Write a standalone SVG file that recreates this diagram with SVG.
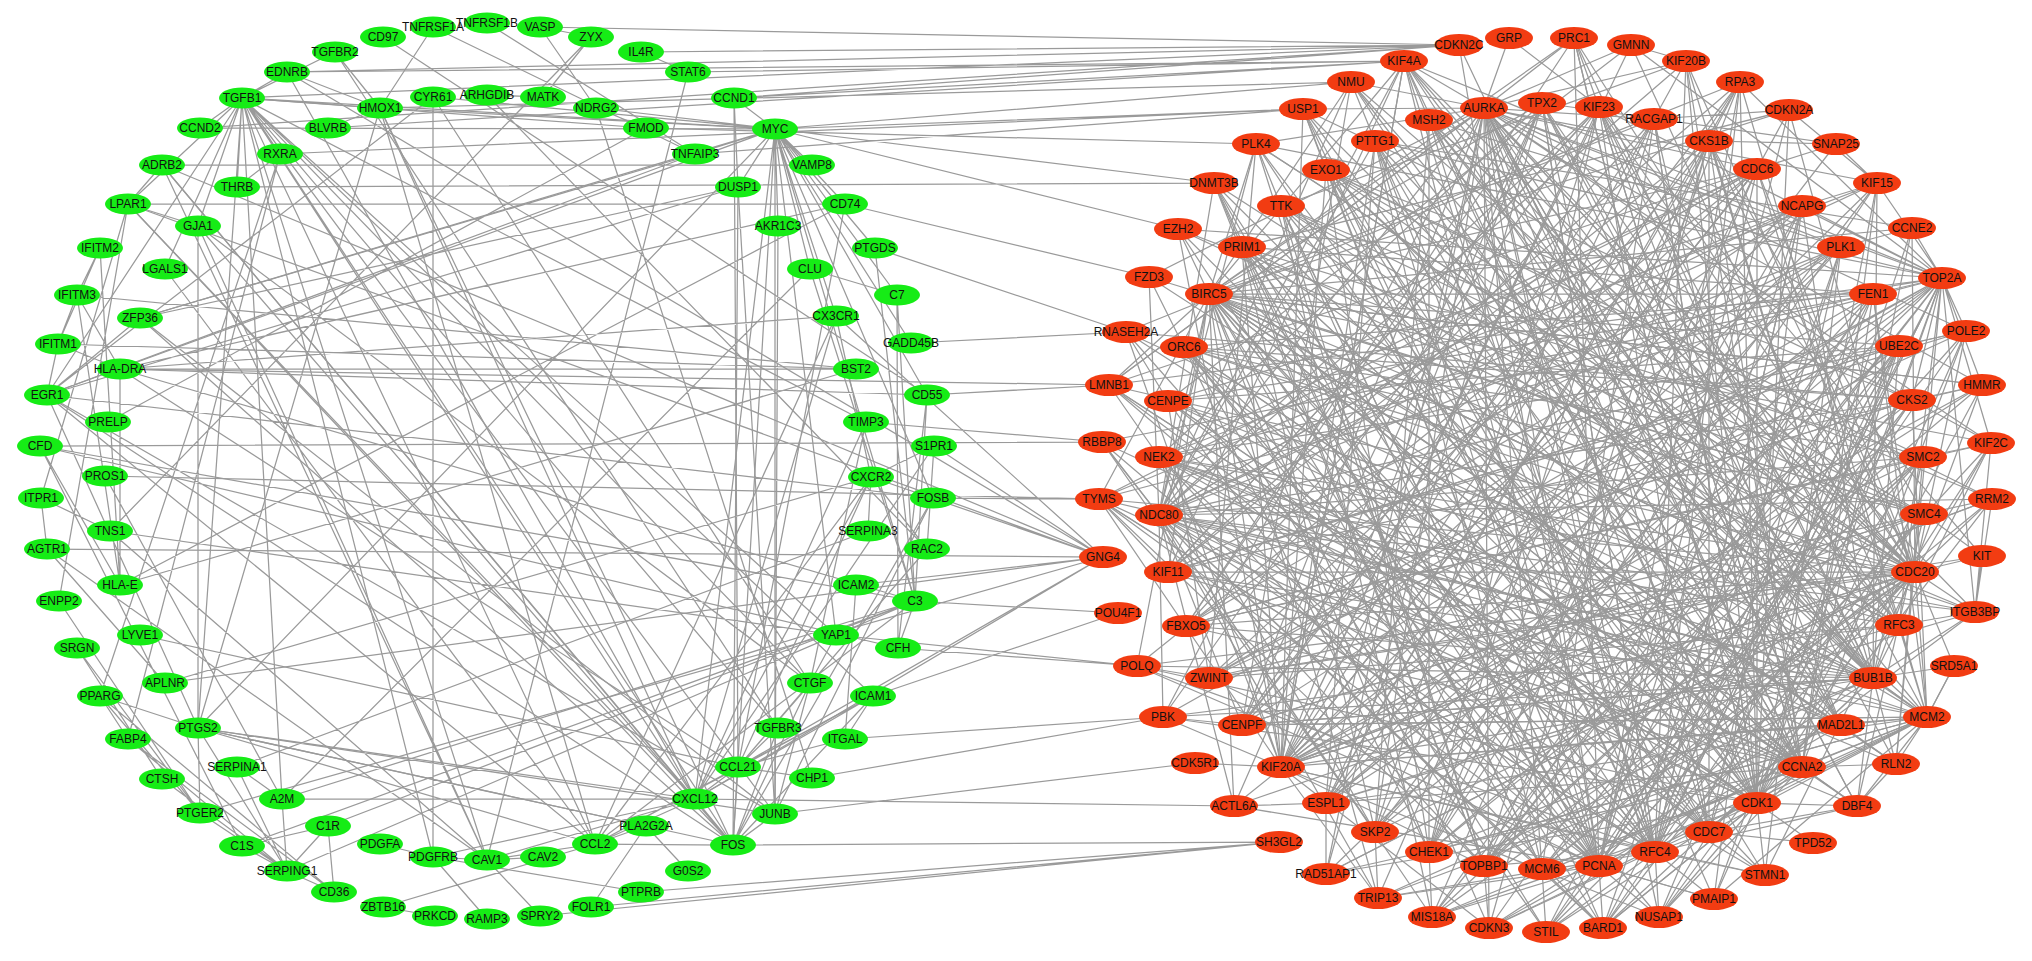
<svg xmlns="http://www.w3.org/2000/svg" width="2032" height="961" viewBox="0 0 2032 961">
<style>
.e path{fill:none;stroke:#9a9a9a;stroke-width:1.25;stroke-linejoin:round;stroke-linecap:round}
.g ellipse{fill:#16ec16}
.r ellipse{fill:#f23c12}
text{font-family:"Liberation Sans",Arial,Helvetica,sans-serif;font-size:12px;fill:#111;text-anchor:middle}
</style>
<rect width="2032" height="961" fill="#fff"/>
<g id="connectors" class="e">
<path id="e-tgfb1" d="M242 98L335 52M242 98L778 728M242 98L200 128M242 98L237 187M242 98L198 226M242 98L165 269M242 98L280 154M242 98L380 108M242 98L287 72M242 98L810 683M242 98L733 845M242 98L775 814M242 98L695 799M242 98L595 844M242 98L433 857M242 98L487 860M242 98L198 728M242 98L47 395M242 98L775 129M242 98L873 696M242 98L836 635M242 98L866 422M242 98L128 204M242 98L282 799"/>
<path id="e-myc" d="M775 129L734 98M775 129L200 128M775 129L812 165M775 129L845 204M775 129L875 248M775 129L810 269M775 129L897 295M775 129L778 226M775 129L738 187M775 129L733 845M775 129L775 814M775 129L47 395M775 129L695 154M775 129L596 108M775 129L836 316M775 129L911 343M775 129L927 395M775 129L933 498M775 129L915 601M775 129L380 108M775 129L140 318M775 129L433 97M775 129L198 728M775 129L695 799M775 129L836 635"/>
<path id="e-fos" d="M733 845L695 799M733 845L738 767M733 845L775 814M733 845L778 728M733 845L810 683M733 845L738 187M733 845L47 395M733 845L140 318M733 845L198 728M733 845L933 498M733 845L646 826M733 845L595 844M733 845L873 696M733 845L380 108M733 845L198 226M733 845L128 204M733 845L162 165"/>
<path id="e-chemokines" d="M695 799L738 767M695 799L595 844M695 799L871 477M695 799L836 316M695 799L934 446M695 799L128 204M695 799L162 165M695 799L380 108M695 799L198 728M695 799L282 799M695 799L873 696M695 799L487 860M695 799L287 72M695 799L433 857M695 799L866 422M738 767L595 844M738 767L873 696M738 767L845 739M738 767L871 477M738 767L845 204M738 767L810 683M738 767L778 728M738 767L812 778M738 767L120 369M738 767L927 549M595 844L873 696M595 844L871 477M595 844L198 728M595 844L380 108M595 844L836 316M595 844L487 860M595 844L646 826M595 844L47 395M595 844L915 601"/>
<path id="e-green-misc" d="M775 814L47 395M775 814L933 498M775 814L738 187M775 814L140 318M775 814L198 728M775 814L810 683M47 395L140 318M47 395L933 498M47 395L738 187M47 395L198 728M47 395L433 97M47 395L695 154M47 395L58 344M120 369L845 204M120 369L120 585M120 369L836 316M120 369L856 369M120 369L927 395M120 369L58 344M120 369L77 295M120 369L915 601M100 248L77 295L58 344L100 248M58 344L856 369M77 295L856 369M100 248L120 585M77 295L120 585M915 601L898 648M915 601L40 446M40 446L898 648M915 601L897 295M915 601L927 395M915 601L810 269M915 601L287 871M915 601L242 846M915 601L328 826M915 601L282 799M242 846L328 826M242 846L287 871M328 826L287 871M287 871L282 799M287 871L237 767M282 799L237 767M237 767L868 531M897 295L898 648M810 269L897 295M927 395L898 648M40 446L242 846M40 446L120 585M328 826L334 892M287 871L334 892M200 813L287 871M162 779L287 871M128 739L287 871M198 728L287 871M100 696L280 154M100 696L128 739M100 696L334 892M100 696L198 728M100 696L200 813M128 739L334 892M128 739L280 154M77 648L162 779M77 648L200 813M165 683L47 549M165 683L871 477M140 635L738 767M120 585L845 204M120 585L856 369M110 531L487 860M110 531L836 635M41 498L110 531M47 549L41 498M47 549L487 860M41 498L128 204M59 601L128 204M59 601L200 813M105 476L282 799M108 422L646 128M646 128L242 98M646 128L596 108M140 318L738 187M140 318L695 154M165 269L595 844M198 226L487 860M198 226L128 204M198 226L810 683M198 226L198 728M162 165L128 204M162 165L487 860M280 154L237 187M380 108L328 128M380 108L335 52M380 108L287 72M380 108L198 728M380 108L433 27M433 97L810 683M433 97L433 857M487 95L927 549M487 95L543 97M543 97L591 37M596 108L540 27M596 108L812 778M695 154L487 23M695 154L433 27M836 316L871 477M875 248L915 601M866 422L810 683M871 477L868 531M871 477L927 549M934 446L927 549M934 446L871 477M856 585L845 739M873 696L845 739M836 635L810 683M688 871L646 826M591 907L646 826M540 916L487 860M487 860L543 857M487 860L433 857M433 857L380 844M383 907L435 916M383 907L595 844M487 919L433 857M641 892L433 857M282 799L810 269M198 728L200 813M198 728L646 826M335 52L778 728M383 37L927 395M641 52L688 72M688 72L487 860M540 27L591 37M591 37L110 531M734 98L738 767M734 98L738 187M778 226L775 814M162 165L812 165M128 204L845 204"/>
<path id="e-inter" d="M540 27L1459 45M641 52L1459 45M287 72L1459 45M287 72L1404 61M734 98L1459 45M734 98L1404 61M200 128L1459 45M380 108L1351 82M328 128L1404 61M775 129L1351 82M775 129L1303 109M775 129L1214 183M775 129L1178 229M280 154L1303 109M695 154L1303 109M237 187L1214 183M646 128L1256 144M688 72L1404 61M242 98L1459 45M845 204L1149 277M875 248L1126 332M911 343L1126 332M927 395L1109 385M866 422L1102 442M120 369L1109 385M40 446L1102 442M933 498L1099 499M105 476L1099 499M871 477L1103 557M934 446L1103 557M836 316L1103 557M162 165L1103 557M128 204L1103 557M47 549L1103 557M287 72L1103 557M165 683L1103 557M200 813L1103 557M738 767L1103 557M695 799L1103 557M915 601L1118 613M873 696L1118 613M836 635L1137 666M812 778L1163 717M775 814L1195 763M845 739L1163 717M695 799L1234 806M733 845L1279 842M591 907L1279 842M641 892L1279 842M540 916L1279 842M856 585L1103 557M898 648L1137 666"/>
<path id="e-red-chain1" d="M1484 108L1757 803L1757 169L1281 767L1915 572L1159 457L1899 346L1599 866L1281 206L1841 725L1599 107L1429 852L1923 457L1186 626L1841 247L1709 832L1209 294L1899 625L1326 803L1654 119L1542 869L1375 141L1802 767L1168 572L1709 141L1924 514L1242 725L1542 103L1655 852L1184 347L1912 400L1375 832L1429 120L1873 678L1159 515L1802 206L1484 866L1242 247L1873 294L1209 678L1168 401L1757 803L1326 170L1915 572L1484 108"/>
<path id="e-red-chain2" d="M1802 767L1599 107L1168 572L1899 346L1326 803L1375 141L1655 852L1802 206L1168 401L1873 678L1242 725L1709 141L1484 866L1923 457L1242 247L1709 832L1542 103L1186 626L1915 572L1375 832L1873 294L1184 347L1599 866L1484 108L1841 725L1159 457L1757 169L1429 852L1326 170L1924 514L1281 767L1654 119L1757 803L1159 515L1912 400L1542 869L1209 294L1899 625L1209 678L1841 247L1429 120L1655 852"/>
<path id="e-red-chain3" d="M1757 803L1159 457L1542 103L1899 625L1281 206L1599 866L1912 400L1186 626L1654 119L1802 767L1429 120L1429 852L1802 206L1242 725L1924 514L1184 347L1709 832L1709 141L1326 803L1899 346L1168 401L1841 725L1484 108L1542 869L1915 572L1242 247L1375 832L1599 107L1873 678L1168 572L1841 247L1655 852L1326 170L1923 457L1281 767L1757 169L1159 515L1484 866L1873 294L1209 294L1802 767"/>
<path id="e-red-chain4" d="M1942 278L1757 803L1991 443L1599 866L1574 38L1915 572L1927 717L1429 852L1740 82L1168 572L1966 331L1484 108L1857 806L1184 347L1659 917L1899 346L1489 928L1709 141L1378 898L1841 725L1404 61L1281 767L1992 499L1326 170L1765 875L1841 247L1603 928L1159 457L1975 612L1655 852L1686 61L1281 206L1432 917L1923 457L1896 764L1209 294L1982 385L1326 803L1836 144L1542 103L1326 874L1802 767"/>
<path id="e-red-chain5" d="M1303 109L1802 767L1877 183L1375 832L1102 442L1873 294L1546 932L1168 401L1631 45L1899 625L1163 717L1599 107L1982 556L1209 678L1256 144L1709 832L1912 228L1375 141L1714 899L1802 206L1099 499L1484 866L1214 183L1159 515L1857 806L1924 514L1178 229L1599 866L1789 110L1242 247L1927 717L1242 725L1351 82L1873 678L1137 666L1757 169L1109 385L1757 803L1574 38L1186 626L1991 443L1912 400L1126 332L1654 119"/>
<path id="e-red-chain6" d="M1757 169L1209 678L1924 514L1281 206L1484 866L1899 346L1168 572L1599 107L1709 832L1168 401L1899 625L1484 108L1326 803L1841 247L1159 515L1802 767L1242 247L1542 869L1923 457L1184 347L1429 852L1654 119L1242 725L1873 678L1375 141L1599 866L1802 206L1186 626L1912 400L1326 170L1281 767L1542 103L1841 725L1209 294L1655 852L1873 294L1159 457L1375 832L1709 141L1915 572L1429 120L1757 803"/>
<path id="e-red-chain7" d="M1351 82L1841 725L1149 277L1924 514L1603 928L1281 206L1992 499L1542 869L1214 183L1899 625L1404 61L1168 572L1982 385L1429 852L1877 183L1159 457L1896 764L1542 103L1234 806L1873 294L1432 917L1757 169L1099 499L1655 852L1942 278L1242 725L1740 82L1326 803L1975 612L1184 347L1546 932L1912 400L1303 109L1709 832L1109 385L1484 108L1326 874L1915 572L1256 144L1484 866L1966 331L1209 678"/>
<path id="e-cdk1" d="M1757 803L1404 61M1757 803L1686 61M1757 803L1877 183M1757 803L1982 385M1757 803L1927 717M1757 803L1857 806M1757 803L1765 875M1757 803L1813 843M1757 803L1659 917M1757 803L1432 917M1757 803L1163 717M1757 803L1099 499M1757 803L1109 385M1757 803L1178 229M1757 803L1256 144M1757 803L1789 110M1757 803L1714 899M1757 803L1966 331M1757 803L1992 499M1757 803L1603 928M1757 803L1489 928M1757 803L1326 874M1757 803L1137 666M1757 803L1574 38M1757 803L1740 82M1757 803L1654 119M1757 803L1899 346M1757 803L1168 401M1757 803L1281 206M1757 803L1375 141"/>
<path id="e-ccna2" d="M1802 767L1459 45M1802 767L1912 228M1802 767L1896 764M1802 767L1857 806M1802 767L1927 717M1802 767L1546 932M1802 767L1432 917M1802 767L1102 442M1802 767L1126 332M1802 767L1214 183M1802 767L1351 82M1802 767L1686 61M1802 767L1966 331M1802 767L1603 928M1802 767L1659 917M1802 767L1484 108M1802 767L1599 107M1802 767L1709 141M1802 767L1873 294M1802 767L1542 869M1802 767L1326 803M1802 767L1186 626M1802 767L1159 457M1802 767L1242 247M1802 767L1429 120M1802 767L1184 347"/>
<path id="e-pcna" d="M1599 866L1404 61M1599 866L1459 45M1599 866L1740 82M1599 866L1966 331M1599 866L1927 717M1599 866L1714 899M1599 866L1659 917M1599 866L1603 928M1599 866L1546 932M1599 866L1489 928M1599 866L1432 917M1599 866L1378 898M1599 866L1234 806M1599 866L1137 666M1599 866L1099 499M1599 866L1102 442M1599 866L1126 332M1599 866L1214 183M1599 866L1303 109M1599 866L1757 169M1599 866L1899 346M1599 866L1924 514M1599 866L1841 725M1599 866L1209 678M1599 866L1159 457M1599 866L1242 247M1599 866L1326 170"/>
<path id="e-aurka" d="M1484 108L1574 38M1484 108L1631 45M1484 108L1686 61M1484 108L1877 183M1484 108L1942 278M1484 108L1982 385M1484 108L1991 443M1484 108L1975 612M1484 108L1857 806M1484 108L1659 917M1484 108L1489 928M1484 108L1163 717M1484 108L1109 385M1484 108L1149 277M1484 108L1256 144M1484 108L1303 109M1484 108L1351 82M1484 108L1404 61M1484 108L1654 119M1484 108L1757 169M1484 108L1841 247M1484 108L1912 400M1484 108L1915 572M1484 108L1873 678M1484 108L1709 832M1484 108L1375 832M1484 108L1242 725M1484 108L1159 515M1484 108L1209 294"/>
<path id="e-top2a" d="M1942 278L1912 228M1942 278L1877 183M1942 278L1966 331M1942 278L1982 385M1942 278L1991 443M1942 278L1975 612M1942 278L1896 764M1942 278L1714 899M1942 278L1603 928M1942 278L1432 917M1942 278L1326 874M1942 278L1163 717M1942 278L1099 499M1942 278L1109 385M1942 278L1178 229M1942 278L1256 144M1942 278L1404 61M1942 278L1631 45M1942 278L1740 82M1942 278L1599 107M1942 278L1802 206M1942 278L1912 400M1942 278L1899 625M1942 278L1655 852M1942 278L1484 866M1942 278L1326 803M1942 278L1209 678M1942 278L1168 401M1942 278L1375 141"/>
<path id="e-bub1b" d="M1873 678L1927 717M1873 678L1857 806M1873 678L1896 764M1873 678L1404 61M1873 678L1574 38M1873 678L1686 61M1873 678L1877 183M1873 678L1982 385M1873 678L1991 443M1873 678L1603 928M1873 678L1489 928M1873 678L1378 898M1873 678L1163 717M1873 678L1099 499M1873 678L1126 332M1873 678L1303 109M1873 678L1542 103M1873 678L1709 141M1873 678L1802 206M1873 678L1899 346M1873 678L1923 457M1873 678L1709 832M1873 678L1429 852M1873 678L1281 767M1873 678L1186 626M1873 678L1159 457M1873 678L1209 294M1873 678L1326 170"/>
<path id="e-cdc20" d="M1915 572L1975 612M1915 572L1992 499M1915 572L1991 443M1915 572L1966 331M1915 572L1912 228M1915 572L1789 110M1915 572L1686 61M1915 572L1404 61M1915 572L1351 82M1915 572L1256 144M1915 572L1178 229M1915 572L1109 385M1915 572L1099 499M1915 572L1137 666M1915 572L1234 806M1915 572L1326 874M1915 572L1432 917M1915 572L1546 932M1915 572L1659 917M1915 572L1765 875M1915 572L1599 107M1915 572L1757 169M1915 572L1873 294M1915 572L1655 852M1915 572L1484 866M1915 572L1209 678M1915 572L1168 572M1915 572L1184 347M1915 572L1281 206M1915 572L1429 120"/>
<path id="e-mcm2" d="M1927 717L1896 764M1927 717L1857 806M1927 717L1954 666M1927 717L1841 725M1927 717L1709 832M1927 717L1542 869M1927 717L1429 852M1927 717L1326 803M1927 717L1242 725M1927 717L1168 572M1927 717L1159 457M1927 717L1209 294M1927 717L1326 170M1927 717L1429 120M1927 717L1599 107M1927 717L1757 169M1927 717L1873 294M1927 717L1912 400M1927 717L1740 82M1927 717L1489 928M1927 717L1714 899"/>
<path id="e-rfc4" d="M1655 852L1659 917M1655 852L1714 899M1655 852L1603 928M1655 852L1546 932M1655 852L1709 832M1655 852L1765 875M1655 852L1857 806M1655 852L1404 61M1655 852L1740 82M1655 852L1214 183M1655 852L1303 109M1655 852L1109 385M1655 852L1099 499M1655 852L1137 666M1655 852L1378 898M1655 852L1484 108M1655 852L1542 103M1655 852L1802 206M1655 852L1899 346M1655 852L1923 457M1655 852L1209 294M1655 852L1159 515M1655 852L1281 767M1655 852L1484 866"/>
<path id="e-ndc80" d="M1159 515L1404 61M1159 515L1686 61M1159 515L1877 183M1159 515L1966 331M1159 515L1992 499M1159 515L1975 612M1159 515L1927 717M1159 515L1765 875M1159 515L1603 928M1159 515L1432 917M1159 515L1378 898M1159 515L1234 806M1159 515L1163 717M1159 515L1102 442M1159 515L1149 277M1159 515L1256 144M1159 515L1351 82M1159 515L1599 107M1159 515L1757 169M1159 515L1899 346M1159 515L1923 457M1159 515L1899 625M1159 515L1542 869M1159 515L1375 832M1159 515L1242 725M1159 515L1209 294M1159 515L1375 141"/>
<path id="e-birc5" d="M1209 294L1404 61M1209 294L1574 38M1209 294L1740 82M1209 294L1789 110M1209 294L1912 228M1209 294L1982 385M1209 294L1991 443M1209 294L1975 612M1209 294L1896 764M1209 294L1765 875M1209 294L1603 928M1209 294L1489 928M1209 294L1378 898M1209 294L1234 806M1209 294L1137 666M1209 294L1099 499M1209 294L1109 385M1209 294L1256 144M1209 294L1351 82M1209 294L1542 103M1209 294L1757 169M1209 294L1899 346M1209 294L1924 514M1209 294L1899 625M1209 294L1802 767M1209 294L1429 852M1209 294L1281 767M1209 294L1168 572"/>
<path id="e-kif20a" d="M1281 767L1404 61M1281 767L1631 45M1281 767L1740 82M1281 767L1877 183M1281 767L1942 278M1281 767L1982 385M1281 767L1992 499M1281 767L1927 717M1281 767L1765 875M1281 767L1659 917M1281 767L1489 928M1281 767L1378 898M1281 767L1163 717M1281 767L1099 499M1281 767L1126 332M1281 767L1178 229M1281 767L1303 109M1281 767L1599 107M1281 767L1757 169M1281 767L1841 247M1281 767L1912 400M1281 767L1915 572M1281 767L1841 725M1281 767L1484 866M1281 767L1159 457M1281 767L1242 247M1281 767L1375 141"/>
<path id="e-red-misc" d="M1857 806L1709 832M1813 843L1709 832M1896 764L1857 806M1975 612L1982 556M1975 612L1991 443M1975 612L1992 499M1975 612L1899 625M1975 612L1873 678M1982 556L1915 572M1982 556L1924 514M1954 666L1873 678M1954 666L1927 717M1954 666L1915 572M1836 144L1709 141M1836 144L1877 183M1836 144L1757 169M1789 110L1654 119M1789 110L1877 183M1789 110L1757 169M1509 38L1599 107M1509 38L1484 108M1765 875L1709 832M1714 899L1599 866M1659 917L1709 832M1603 928L1542 869M1546 932L1542 869M1489 928L1484 866M1432 917L1429 852M1378 898L1375 832M1326 874L1326 803M1574 38L1599 107M1631 45L1686 61M1686 61L1654 119M1740 82L1709 141M1404 61L1429 120M1351 82L1375 141M1303 109L1326 170M1256 144L1281 206M1214 183L1242 247M1178 229L1209 294M1149 277L1184 347M1126 332L1168 401M1109 385L1159 457M1102 442L1159 515M1099 499L1168 572M1137 666L1209 678M1163 717L1242 725M1195 763L1281 767M1234 806L1326 803M1991 443L1923 457M1992 499L1924 514M1982 385L1912 400M1966 331L1899 346M1942 278L1873 294M1912 228L1841 247M1877 183L1802 206M1927 717L1873 678M1896 764L1841 725M1857 806L1802 767"/>
</g>
<g id="nodes">
<g id="n-CD97" class="g"><ellipse cx="383" cy="37" rx="23" ry="10.5"/><text x="383" y="41">CD97</text></g>
<g id="n-TNFRSF1A" class="g"><ellipse cx="433" cy="27" rx="23" ry="10.5"/><text x="433" y="31">TNFRSF1A</text></g>
<g id="n-TNFRSF1B" class="g"><ellipse cx="487" cy="23" rx="23" ry="10.5"/><text x="487" y="27">TNFRSF1B</text></g>
<g id="n-VASP" class="g"><ellipse cx="540" cy="27" rx="23" ry="10.5"/><text x="540" y="31">VASP</text></g>
<g id="n-ZYX" class="g"><ellipse cx="591" cy="37" rx="23" ry="10.5"/><text x="591" y="41">ZYX</text></g>
<g id="n-IL4R" class="g"><ellipse cx="641" cy="52" rx="23" ry="10.5"/><text x="641" y="56">IL4R</text></g>
<g id="n-STAT6" class="g"><ellipse cx="688" cy="72" rx="23" ry="10.5"/><text x="688" y="76">STAT6</text></g>
<g id="n-CCND1" class="g"><ellipse cx="734" cy="98" rx="23" ry="10.5"/><text x="734" y="102">CCND1</text></g>
<g id="n-MYC" class="g"><ellipse cx="775" cy="129" rx="23" ry="10.5"/><text x="775" y="133">MYC</text></g>
<g id="n-VAMP8" class="g"><ellipse cx="812" cy="165" rx="23" ry="10.5"/><text x="812" y="169">VAMP8</text></g>
<g id="n-CD74" class="g"><ellipse cx="845" cy="204" rx="23" ry="10.5"/><text x="845" y="208">CD74</text></g>
<g id="n-PTGDS" class="g"><ellipse cx="875" cy="248" rx="23" ry="10.5"/><text x="875" y="252">PTGDS</text></g>
<g id="n-C7" class="g"><ellipse cx="897" cy="295" rx="23" ry="10.5"/><text x="897" y="299">C7</text></g>
<g id="n-GADD45B" class="g"><ellipse cx="911" cy="343" rx="23" ry="10.5"/><text x="911" y="347">GADD45B</text></g>
<g id="n-CD55" class="g"><ellipse cx="927" cy="395" rx="23" ry="10.5"/><text x="927" y="399">CD55</text></g>
<g id="n-S1PR1" class="g"><ellipse cx="934" cy="446" rx="23" ry="10.5"/><text x="934" y="450">S1PR1</text></g>
<g id="n-FOSB" class="g"><ellipse cx="933" cy="498" rx="23" ry="10.5"/><text x="933" y="502">FOSB</text></g>
<g id="n-RAC2" class="g"><ellipse cx="927" cy="549" rx="23" ry="10.5"/><text x="927" y="553">RAC2</text></g>
<g id="n-C3" class="g"><ellipse cx="915" cy="601" rx="23" ry="10.5"/><text x="915" y="605">C3</text></g>
<g id="n-CFH" class="g"><ellipse cx="898" cy="648" rx="23" ry="10.5"/><text x="898" y="652">CFH</text></g>
<g id="n-ICAM1" class="g"><ellipse cx="873" cy="696" rx="23" ry="10.5"/><text x="873" y="700">ICAM1</text></g>
<g id="n-ITGAL" class="g"><ellipse cx="845" cy="739" rx="23" ry="10.5"/><text x="845" y="743">ITGAL</text></g>
<g id="n-CHP1" class="g"><ellipse cx="812" cy="778" rx="23" ry="10.5"/><text x="812" y="782">CHP1</text></g>
<g id="n-JUNB" class="g"><ellipse cx="775" cy="814" rx="23" ry="10.5"/><text x="775" y="818">JUNB</text></g>
<g id="n-FOS" class="g"><ellipse cx="733" cy="845" rx="23" ry="10.5"/><text x="733" y="849">FOS</text></g>
<g id="n-G0S2" class="g"><ellipse cx="688" cy="871" rx="23" ry="10.5"/><text x="688" y="875">G0S2</text></g>
<g id="n-PTPRB" class="g"><ellipse cx="641" cy="892" rx="23" ry="10.5"/><text x="641" y="896">PTPRB</text></g>
<g id="n-FOLR1" class="g"><ellipse cx="591" cy="907" rx="23" ry="10.5"/><text x="591" y="911">FOLR1</text></g>
<g id="n-SPRY2" class="g"><ellipse cx="540" cy="916" rx="23" ry="10.5"/><text x="540" y="920">SPRY2</text></g>
<g id="n-RAMP3" class="g"><ellipse cx="487" cy="919" rx="23" ry="10.5"/><text x="487" y="923">RAMP3</text></g>
<g id="n-PRKCD" class="g"><ellipse cx="435" cy="916" rx="23" ry="10.5"/><text x="435" y="920">PRKCD</text></g>
<g id="n-ZBTB16" class="g"><ellipse cx="383" cy="907" rx="23" ry="10.5"/><text x="383" y="911">ZBTB16</text></g>
<g id="n-CD36" class="g"><ellipse cx="334" cy="892" rx="23" ry="10.5"/><text x="334" y="896">CD36</text></g>
<g id="n-SERPING1" class="g"><ellipse cx="287" cy="871" rx="23" ry="10.5"/><text x="287" y="875">SERPING1</text></g>
<g id="n-C1S" class="g"><ellipse cx="242" cy="846" rx="23" ry="10.5"/><text x="242" y="850">C1S</text></g>
<g id="n-PTGER2" class="g"><ellipse cx="200" cy="813" rx="23" ry="10.5"/><text x="200" y="817">PTGER2</text></g>
<g id="n-CTSH" class="g"><ellipse cx="162" cy="779" rx="23" ry="10.5"/><text x="162" y="783">CTSH</text></g>
<g id="n-FABP4" class="g"><ellipse cx="128" cy="739" rx="23" ry="10.5"/><text x="128" y="743">FABP4</text></g>
<g id="n-PPARG" class="g"><ellipse cx="100" cy="696" rx="23" ry="10.5"/><text x="100" y="700">PPARG</text></g>
<g id="n-SRGN" class="g"><ellipse cx="77" cy="648" rx="23" ry="10.5"/><text x="77" y="652">SRGN</text></g>
<g id="n-ENPP2" class="g"><ellipse cx="59" cy="601" rx="23" ry="10.5"/><text x="59" y="605">ENPP2</text></g>
<g id="n-AGTR1" class="g"><ellipse cx="47" cy="549" rx="23" ry="10.5"/><text x="47" y="553">AGTR1</text></g>
<g id="n-ITPR1" class="g"><ellipse cx="41" cy="498" rx="23" ry="10.5"/><text x="41" y="502">ITPR1</text></g>
<g id="n-CFD" class="g"><ellipse cx="40" cy="446" rx="23" ry="10.5"/><text x="40" y="450">CFD</text></g>
<g id="n-EGR1" class="g"><ellipse cx="47" cy="395" rx="23" ry="10.5"/><text x="47" y="399">EGR1</text></g>
<g id="n-IFITM1" class="g"><ellipse cx="58" cy="344" rx="23" ry="10.5"/><text x="58" y="348">IFITM1</text></g>
<g id="n-IFITM3" class="g"><ellipse cx="77" cy="295" rx="23" ry="10.5"/><text x="77" y="299">IFITM3</text></g>
<g id="n-IFITM2" class="g"><ellipse cx="100" cy="248" rx="23" ry="10.5"/><text x="100" y="252">IFITM2</text></g>
<g id="n-LPAR1" class="g"><ellipse cx="128" cy="204" rx="23" ry="10.5"/><text x="128" y="208">LPAR1</text></g>
<g id="n-ADRB2" class="g"><ellipse cx="162" cy="165" rx="23" ry="10.5"/><text x="162" y="169">ADRB2</text></g>
<g id="n-CCND2" class="g"><ellipse cx="200" cy="128" rx="23" ry="10.5"/><text x="200" y="132">CCND2</text></g>
<g id="n-TGFB1" class="g"><ellipse cx="242" cy="98" rx="23" ry="10.5"/><text x="242" y="102">TGFB1</text></g>
<g id="n-EDNRB" class="g"><ellipse cx="287" cy="72" rx="23" ry="10.5"/><text x="287" y="76">EDNRB</text></g>
<g id="n-TGFBR2" class="g"><ellipse cx="335" cy="52" rx="23" ry="10.5"/><text x="335" y="56">TGFBR2</text></g>
<g id="n-HMOX1" class="g"><ellipse cx="380" cy="108" rx="23" ry="10.5"/><text x="380" y="112">HMOX1</text></g>
<g id="n-CYR61" class="g"><ellipse cx="433" cy="97" rx="23" ry="10.5"/><text x="433" y="101">CYR61</text></g>
<g id="n-ARHGDIB" class="g"><ellipse cx="487" cy="95" rx="23" ry="10.5"/><text x="487" y="99">ARHGDIB</text></g>
<g id="n-MATK" class="g"><ellipse cx="543" cy="97" rx="23" ry="10.5"/><text x="543" y="101">MATK</text></g>
<g id="n-NDRG2" class="g"><ellipse cx="596" cy="108" rx="23" ry="10.5"/><text x="596" y="112">NDRG2</text></g>
<g id="n-FMOD" class="g"><ellipse cx="646" cy="128" rx="23" ry="10.5"/><text x="646" y="132">FMOD</text></g>
<g id="n-TNFAIP3" class="g"><ellipse cx="695" cy="154" rx="23" ry="10.5"/><text x="695" y="158">TNFAIP3</text></g>
<g id="n-DUSP1" class="g"><ellipse cx="738" cy="187" rx="23" ry="10.5"/><text x="738" y="191">DUSP1</text></g>
<g id="n-AKR1C3" class="g"><ellipse cx="778" cy="226" rx="23" ry="10.5"/><text x="778" y="230">AKR1C3</text></g>
<g id="n-CLU" class="g"><ellipse cx="810" cy="269" rx="23" ry="10.5"/><text x="810" y="273">CLU</text></g>
<g id="n-CX3CR1" class="g"><ellipse cx="836" cy="316" rx="23" ry="10.5"/><text x="836" y="320">CX3CR1</text></g>
<g id="n-BST2" class="g"><ellipse cx="856" cy="369" rx="23" ry="10.5"/><text x="856" y="373">BST2</text></g>
<g id="n-TIMP3" class="g"><ellipse cx="866" cy="422" rx="23" ry="10.5"/><text x="866" y="426">TIMP3</text></g>
<g id="n-CXCR2" class="g"><ellipse cx="871" cy="477" rx="23" ry="10.5"/><text x="871" y="481">CXCR2</text></g>
<g id="n-SERPINA3" class="g"><ellipse cx="868" cy="531" rx="23" ry="10.5"/><text x="868" y="535">SERPINA3</text></g>
<g id="n-ICAM2" class="g"><ellipse cx="856" cy="585" rx="23" ry="10.5"/><text x="856" y="589">ICAM2</text></g>
<g id="n-YAP1" class="g"><ellipse cx="836" cy="635" rx="23" ry="10.5"/><text x="836" y="639">YAP1</text></g>
<g id="n-CTGF" class="g"><ellipse cx="810" cy="683" rx="23" ry="10.5"/><text x="810" y="687">CTGF</text></g>
<g id="n-TGFBR3" class="g"><ellipse cx="778" cy="728" rx="23" ry="10.5"/><text x="778" y="732">TGFBR3</text></g>
<g id="n-CCL21" class="g"><ellipse cx="738" cy="767" rx="23" ry="10.5"/><text x="738" y="771">CCL21</text></g>
<g id="n-CXCL12" class="g"><ellipse cx="695" cy="799" rx="23" ry="10.5"/><text x="695" y="803">CXCL12</text></g>
<g id="n-PLA2G2A" class="g"><ellipse cx="646" cy="826" rx="23" ry="10.5"/><text x="646" y="830">PLA2G2A</text></g>
<g id="n-CCL2" class="g"><ellipse cx="595" cy="844" rx="23" ry="10.5"/><text x="595" y="848">CCL2</text></g>
<g id="n-CAV2" class="g"><ellipse cx="543" cy="857" rx="23" ry="10.5"/><text x="543" y="861">CAV2</text></g>
<g id="n-CAV1" class="g"><ellipse cx="487" cy="860" rx="23" ry="10.5"/><text x="487" y="864">CAV1</text></g>
<g id="n-PDGFRB" class="g"><ellipse cx="433" cy="857" rx="23" ry="10.5"/><text x="433" y="861">PDGFRB</text></g>
<g id="n-PDGFA" class="g"><ellipse cx="380" cy="844" rx="23" ry="10.5"/><text x="380" y="848">PDGFA</text></g>
<g id="n-C1R" class="g"><ellipse cx="328" cy="826" rx="23" ry="10.5"/><text x="328" y="830">C1R</text></g>
<g id="n-A2M" class="g"><ellipse cx="282" cy="799" rx="23" ry="10.5"/><text x="282" y="803">A2M</text></g>
<g id="n-SERPINA1" class="g"><ellipse cx="237" cy="767" rx="23" ry="10.5"/><text x="237" y="771">SERPINA1</text></g>
<g id="n-PTGS2" class="g"><ellipse cx="198" cy="728" rx="23" ry="10.5"/><text x="198" y="732">PTGS2</text></g>
<g id="n-APLNR" class="g"><ellipse cx="165" cy="683" rx="23" ry="10.5"/><text x="165" y="687">APLNR</text></g>
<g id="n-LYVE1" class="g"><ellipse cx="140" cy="635" rx="23" ry="10.5"/><text x="140" y="639">LYVE1</text></g>
<g id="n-HLA-E" class="g"><ellipse cx="120" cy="585" rx="23" ry="10.5"/><text x="120" y="589">HLA-E</text></g>
<g id="n-TNS1" class="g"><ellipse cx="110" cy="531" rx="23" ry="10.5"/><text x="110" y="535">TNS1</text></g>
<g id="n-PROS1" class="g"><ellipse cx="105" cy="476" rx="23" ry="10.5"/><text x="105" y="480">PROS1</text></g>
<g id="n-PRELP" class="g"><ellipse cx="108" cy="422" rx="23" ry="10.5"/><text x="108" y="426">PRELP</text></g>
<g id="n-HLA-DRA" class="g"><ellipse cx="120" cy="369" rx="23" ry="10.5"/><text x="120" y="373">HLA-DRA</text></g>
<g id="n-ZFP36" class="g"><ellipse cx="140" cy="318" rx="23" ry="10.5"/><text x="140" y="322">ZFP36</text></g>
<g id="n-LGALS1" class="g"><ellipse cx="165" cy="269" rx="23" ry="10.5"/><text x="165" y="273">LGALS1</text></g>
<g id="n-GJA1" class="g"><ellipse cx="198" cy="226" rx="23" ry="10.5"/><text x="198" y="230">GJA1</text></g>
<g id="n-THRB" class="g"><ellipse cx="237" cy="187" rx="23" ry="10.5"/><text x="237" y="191">THRB</text></g>
<g id="n-RXRA" class="g"><ellipse cx="280" cy="154" rx="23" ry="10.5"/><text x="280" y="158">RXRA</text></g>
<g id="n-BLVRB" class="g"><ellipse cx="328" cy="128" rx="23" ry="10.5"/><text x="328" y="132">BLVRB</text></g>
<g id="n-KIF4A" class="r"><ellipse cx="1404" cy="61" rx="24" ry="11"/><text x="1404" y="65">KIF4A</text></g>
<g id="n-CDKN2C" class="r"><ellipse cx="1459" cy="45" rx="24" ry="11"/><text x="1459" y="49">CDKN2C</text></g>
<g id="n-GRP" class="r"><ellipse cx="1509" cy="38" rx="24" ry="11"/><text x="1509" y="42">GRP</text></g>
<g id="n-PRC1" class="r"><ellipse cx="1574" cy="38" rx="24" ry="11"/><text x="1574" y="42">PRC1</text></g>
<g id="n-GMNN" class="r"><ellipse cx="1631" cy="45" rx="24" ry="11"/><text x="1631" y="49">GMNN</text></g>
<g id="n-KIF20B" class="r"><ellipse cx="1686" cy="61" rx="24" ry="11"/><text x="1686" y="65">KIF20B</text></g>
<g id="n-RPA3" class="r"><ellipse cx="1740" cy="82" rx="24" ry="11"/><text x="1740" y="86">RPA3</text></g>
<g id="n-CDKN2A" class="r"><ellipse cx="1789" cy="110" rx="24" ry="11"/><text x="1789" y="114">CDKN2A</text></g>
<g id="n-SNAP25" class="r"><ellipse cx="1836" cy="144" rx="24" ry="11"/><text x="1836" y="148">SNAP25</text></g>
<g id="n-KIF15" class="r"><ellipse cx="1877" cy="183" rx="24" ry="11"/><text x="1877" y="187">KIF15</text></g>
<g id="n-CCNE2" class="r"><ellipse cx="1912" cy="228" rx="24" ry="11"/><text x="1912" y="232">CCNE2</text></g>
<g id="n-TOP2A" class="r"><ellipse cx="1942" cy="278" rx="24" ry="11"/><text x="1942" y="282">TOP2A</text></g>
<g id="n-POLE2" class="r"><ellipse cx="1966" cy="331" rx="24" ry="11"/><text x="1966" y="335">POLE2</text></g>
<g id="n-HMMR" class="r"><ellipse cx="1982" cy="385" rx="24" ry="11"/><text x="1982" y="389">HMMR</text></g>
<g id="n-KIF2C" class="r"><ellipse cx="1991" cy="443" rx="24" ry="11"/><text x="1991" y="447">KIF2C</text></g>
<g id="n-RRM2" class="r"><ellipse cx="1992" cy="499" rx="24" ry="11"/><text x="1992" y="503">RRM2</text></g>
<g id="n-KIT" class="r"><ellipse cx="1982" cy="556" rx="24" ry="11"/><text x="1982" y="560">KIT</text></g>
<g id="n-ITGB3BP" class="r"><ellipse cx="1975" cy="612" rx="24" ry="11"/><text x="1975" y="616">ITGB3BP</text></g>
<g id="n-SRD5A1" class="r"><ellipse cx="1954" cy="666" rx="24" ry="11"/><text x="1954" y="670">SRD5A1</text></g>
<g id="n-MCM2" class="r"><ellipse cx="1927" cy="717" rx="24" ry="11"/><text x="1927" y="721">MCM2</text></g>
<g id="n-RLN2" class="r"><ellipse cx="1896" cy="764" rx="24" ry="11"/><text x="1896" y="768">RLN2</text></g>
<g id="n-DBF4" class="r"><ellipse cx="1857" cy="806" rx="24" ry="11"/><text x="1857" y="810">DBF4</text></g>
<g id="n-TPD52" class="r"><ellipse cx="1813" cy="843" rx="24" ry="11"/><text x="1813" y="847">TPD52</text></g>
<g id="n-STMN1" class="r"><ellipse cx="1765" cy="875" rx="24" ry="11"/><text x="1765" y="879">STMN1</text></g>
<g id="n-PMAIP1" class="r"><ellipse cx="1714" cy="899" rx="24" ry="11"/><text x="1714" y="903">PMAIP1</text></g>
<g id="n-NUSAP1" class="r"><ellipse cx="1659" cy="917" rx="24" ry="11"/><text x="1659" y="921">NUSAP1</text></g>
<g id="n-BARD1" class="r"><ellipse cx="1603" cy="928" rx="24" ry="11"/><text x="1603" y="932">BARD1</text></g>
<g id="n-STIL" class="r"><ellipse cx="1546" cy="932" rx="24" ry="11"/><text x="1546" y="936">STIL</text></g>
<g id="n-CDKN3" class="r"><ellipse cx="1489" cy="928" rx="24" ry="11"/><text x="1489" y="932">CDKN3</text></g>
<g id="n-MIS18A" class="r"><ellipse cx="1432" cy="917" rx="24" ry="11"/><text x="1432" y="921">MIS18A</text></g>
<g id="n-TRIP13" class="r"><ellipse cx="1378" cy="898" rx="24" ry="11"/><text x="1378" y="902">TRIP13</text></g>
<g id="n-RAD51AP1" class="r"><ellipse cx="1326" cy="874" rx="24" ry="11"/><text x="1326" y="878">RAD51AP1</text></g>
<g id="n-SH3GL2" class="r"><ellipse cx="1279" cy="842" rx="24" ry="11"/><text x="1279" y="846">SH3GL2</text></g>
<g id="n-ACTL6A" class="r"><ellipse cx="1234" cy="806" rx="24" ry="11"/><text x="1234" y="810">ACTL6A</text></g>
<g id="n-CDK5R1" class="r"><ellipse cx="1195" cy="763" rx="24" ry="11"/><text x="1195" y="767">CDK5R1</text></g>
<g id="n-PBK" class="r"><ellipse cx="1163" cy="717" rx="24" ry="11"/><text x="1163" y="721">PBK</text></g>
<g id="n-POLQ" class="r"><ellipse cx="1137" cy="666" rx="24" ry="11"/><text x="1137" y="670">POLQ</text></g>
<g id="n-POU4F1" class="r"><ellipse cx="1118" cy="613" rx="24" ry="11"/><text x="1118" y="617">POU4F1</text></g>
<g id="n-GNG4" class="r"><ellipse cx="1103" cy="557" rx="24" ry="11"/><text x="1103" y="561">GNG4</text></g>
<g id="n-TYMS" class="r"><ellipse cx="1099" cy="499" rx="24" ry="11"/><text x="1099" y="503">TYMS</text></g>
<g id="n-RBBP8" class="r"><ellipse cx="1102" cy="442" rx="24" ry="11"/><text x="1102" y="446">RBBP8</text></g>
<g id="n-LMNB1" class="r"><ellipse cx="1109" cy="385" rx="24" ry="11"/><text x="1109" y="389">LMNB1</text></g>
<g id="n-RNASEH2A" class="r"><ellipse cx="1126" cy="332" rx="24" ry="11"/><text x="1126" y="336">RNASEH2A</text></g>
<g id="n-FZD3" class="r"><ellipse cx="1149" cy="277" rx="24" ry="11"/><text x="1149" y="281">FZD3</text></g>
<g id="n-EZH2" class="r"><ellipse cx="1178" cy="229" rx="24" ry="11"/><text x="1178" y="233">EZH2</text></g>
<g id="n-DNMT3B" class="r"><ellipse cx="1214" cy="183" rx="24" ry="11"/><text x="1214" y="187">DNMT3B</text></g>
<g id="n-PLK4" class="r"><ellipse cx="1256" cy="144" rx="24" ry="11"/><text x="1256" y="148">PLK4</text></g>
<g id="n-USP1" class="r"><ellipse cx="1303" cy="109" rx="24" ry="11"/><text x="1303" y="113">USP1</text></g>
<g id="n-NMU" class="r"><ellipse cx="1351" cy="82" rx="24" ry="11"/><text x="1351" y="86">NMU</text></g>
<g id="n-AURKA" class="r"><ellipse cx="1484" cy="108" rx="24" ry="11"/><text x="1484" y="112">AURKA</text></g>
<g id="n-TPX2" class="r"><ellipse cx="1542" cy="103" rx="24" ry="11"/><text x="1542" y="107">TPX2</text></g>
<g id="n-KIF23" class="r"><ellipse cx="1599" cy="107" rx="24" ry="11"/><text x="1599" y="111">KIF23</text></g>
<g id="n-RACGAP1" class="r"><ellipse cx="1654" cy="119" rx="24" ry="11"/><text x="1654" y="123">RACGAP1</text></g>
<g id="n-CKS1B" class="r"><ellipse cx="1709" cy="141" rx="24" ry="11"/><text x="1709" y="145">CKS1B</text></g>
<g id="n-CDC6" class="r"><ellipse cx="1757" cy="169" rx="24" ry="11"/><text x="1757" y="173">CDC6</text></g>
<g id="n-NCAPG" class="r"><ellipse cx="1802" cy="206" rx="24" ry="11"/><text x="1802" y="210">NCAPG</text></g>
<g id="n-PLK1" class="r"><ellipse cx="1841" cy="247" rx="24" ry="11"/><text x="1841" y="251">PLK1</text></g>
<g id="n-FEN1" class="r"><ellipse cx="1873" cy="294" rx="24" ry="11"/><text x="1873" y="298">FEN1</text></g>
<g id="n-UBE2C" class="r"><ellipse cx="1899" cy="346" rx="24" ry="11"/><text x="1899" y="350">UBE2C</text></g>
<g id="n-CKS2" class="r"><ellipse cx="1912" cy="400" rx="24" ry="11"/><text x="1912" y="404">CKS2</text></g>
<g id="n-SMC2" class="r"><ellipse cx="1923" cy="457" rx="24" ry="11"/><text x="1923" y="461">SMC2</text></g>
<g id="n-SMC4" class="r"><ellipse cx="1924" cy="514" rx="24" ry="11"/><text x="1924" y="518">SMC4</text></g>
<g id="n-CDC20" class="r"><ellipse cx="1915" cy="572" rx="24" ry="11"/><text x="1915" y="576">CDC20</text></g>
<g id="n-RFC3" class="r"><ellipse cx="1899" cy="625" rx="24" ry="11"/><text x="1899" y="629">RFC3</text></g>
<g id="n-BUB1B" class="r"><ellipse cx="1873" cy="678" rx="24" ry="11"/><text x="1873" y="682">BUB1B</text></g>
<g id="n-MAD2L1" class="r"><ellipse cx="1841" cy="725" rx="24" ry="11"/><text x="1841" y="729">MAD2L1</text></g>
<g id="n-CCNA2" class="r"><ellipse cx="1802" cy="767" rx="24" ry="11"/><text x="1802" y="771">CCNA2</text></g>
<g id="n-CDK1" class="r"><ellipse cx="1757" cy="803" rx="24" ry="11"/><text x="1757" y="807">CDK1</text></g>
<g id="n-CDC7" class="r"><ellipse cx="1709" cy="832" rx="24" ry="11"/><text x="1709" y="836">CDC7</text></g>
<g id="n-RFC4" class="r"><ellipse cx="1655" cy="852" rx="24" ry="11"/><text x="1655" y="856">RFC4</text></g>
<g id="n-PCNA" class="r"><ellipse cx="1599" cy="866" rx="24" ry="11"/><text x="1599" y="870">PCNA</text></g>
<g id="n-MCM6" class="r"><ellipse cx="1542" cy="869" rx="24" ry="11"/><text x="1542" y="873">MCM6</text></g>
<g id="n-TOPBP1" class="r"><ellipse cx="1484" cy="866" rx="24" ry="11"/><text x="1484" y="870">TOPBP1</text></g>
<g id="n-CHEK1" class="r"><ellipse cx="1429" cy="852" rx="24" ry="11"/><text x="1429" y="856">CHEK1</text></g>
<g id="n-SKP2" class="r"><ellipse cx="1375" cy="832" rx="24" ry="11"/><text x="1375" y="836">SKP2</text></g>
<g id="n-ESPL1" class="r"><ellipse cx="1326" cy="803" rx="24" ry="11"/><text x="1326" y="807">ESPL1</text></g>
<g id="n-KIF20A" class="r"><ellipse cx="1281" cy="767" rx="24" ry="11"/><text x="1281" y="771">KIF20A</text></g>
<g id="n-CENPF" class="r"><ellipse cx="1242" cy="725" rx="24" ry="11"/><text x="1242" y="729">CENPF</text></g>
<g id="n-ZWINT" class="r"><ellipse cx="1209" cy="678" rx="24" ry="11"/><text x="1209" y="682">ZWINT</text></g>
<g id="n-FBXO5" class="r"><ellipse cx="1186" cy="626" rx="24" ry="11"/><text x="1186" y="630">FBXO5</text></g>
<g id="n-KIF11" class="r"><ellipse cx="1168" cy="572" rx="24" ry="11"/><text x="1168" y="576">KIF11</text></g>
<g id="n-NDC80" class="r"><ellipse cx="1159" cy="515" rx="24" ry="11"/><text x="1159" y="519">NDC80</text></g>
<g id="n-NEK2" class="r"><ellipse cx="1159" cy="457" rx="24" ry="11"/><text x="1159" y="461">NEK2</text></g>
<g id="n-CENPE" class="r"><ellipse cx="1168" cy="401" rx="24" ry="11"/><text x="1168" y="405">CENPE</text></g>
<g id="n-ORC6" class="r"><ellipse cx="1184" cy="347" rx="24" ry="11"/><text x="1184" y="351">ORC6</text></g>
<g id="n-BIRC5" class="r"><ellipse cx="1209" cy="294" rx="24" ry="11"/><text x="1209" y="298">BIRC5</text></g>
<g id="n-PRIM1" class="r"><ellipse cx="1242" cy="247" rx="24" ry="11"/><text x="1242" y="251">PRIM1</text></g>
<g id="n-TTK" class="r"><ellipse cx="1281" cy="206" rx="24" ry="11"/><text x="1281" y="210">TTK</text></g>
<g id="n-EXO1" class="r"><ellipse cx="1326" cy="170" rx="24" ry="11"/><text x="1326" y="174">EXO1</text></g>
<g id="n-PTTG1" class="r"><ellipse cx="1375" cy="141" rx="24" ry="11"/><text x="1375" y="145">PTTG1</text></g>
<g id="n-MSH2" class="r"><ellipse cx="1429" cy="120" rx="24" ry="11"/><text x="1429" y="124">MSH2</text></g>
</g>
</svg>
